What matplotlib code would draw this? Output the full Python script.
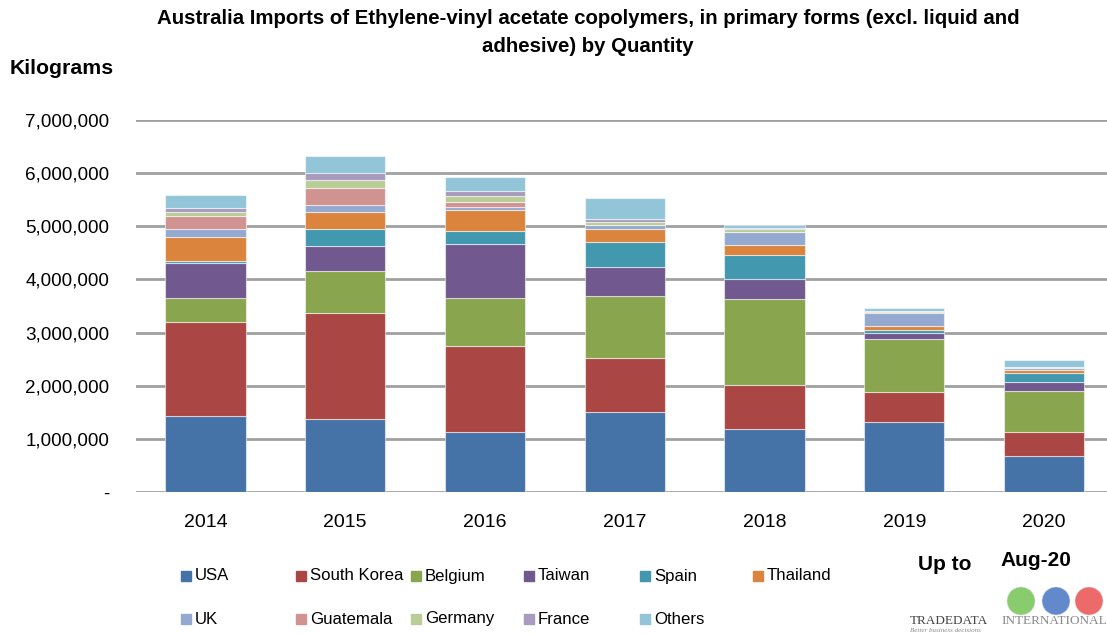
import matplotlib
matplotlib.use("Agg")
import matplotlib.pyplot as plt
from matplotlib.patches import Rectangle, Ellipse
from matplotlib.ticker import FuncFormatter
import numpy as np

plt.rcParams['font.family'] = ['Liberation Sans', 'DejaVu Sans']

years = ["2014", "2015", "2016", "2017", "2018", "2019", "2020"]

usa         = [1430000, 1370000, 1120000, 1500000, 1190000, 1310000, 680000]
south_korea = [1760000, 2000000, 1620000, 1020000, 830000, 580000, 455000]
belgium     = [460000, 795000, 910000, 1170000, 1610000, 990000, 770000]
taiwan      = [650000, 455000, 1017000, 550000, 378000, 120000, 164000]
spain       = [50000, 320000, 240000, 470000, 460000, 45000, 164000]
thailand    = [450000, 335000, 395000, 235000, 175000, 75000, 68000]
uk          = [145000, 125000, 60000, 70000, 245000, 255000, 30000]
guatemala   = [250000, 325000, 90000, 10000, 5000, 10000, 0]
germany     = [65000, 145000, 125000, 60000, 60000, 15000, 15000]
france      = [80000, 140000, 95000, 60000, 10000, 10000, 0]
others      = [245000, 310000, 250000, 385000, 60000, 60000, 133000]

series_names = ["USA", "South Korea", "Belgium", "Taiwan", "Spain", "Thailand",
                "UK", "Guatemala", "Germany", "France", "Others"]
series_values = [usa, south_korea, belgium, taiwan, spain, thailand,
                 uk, guatemala, germany, france, others]
colors = ["#4572A7", "#AA4643", "#89A54E", "#71588F", "#4198AF", "#DB843D",
          "#93A9CF", "#D19392", "#B9CD96", "#A99BBD", "#92C5D8"]

W, H = 1107, 634
fig = plt.figure(figsize=(W / 100, H / 100), dpi=100)

ax_left, ax_right = 135.6, 1107
ax_bottom, ax_top = 492, 120
ax = fig.add_axes([ax_left / W, 1 - ax_bottom / H,
                   (ax_right - ax_left) / W, (ax_bottom - ax_top) / H])

x = np.arange(len(years))
bottom = np.zeros(len(years))
for name, vals, c in zip(series_names, series_values, colors):
    v = np.array(vals, dtype=float)
    ax.bar(x, v, width=0.575, bottom=bottom, color=c, label=name,
           edgecolor=(1, 1, 1, 0.55), linewidth=0.8, zorder=3)
    bottom += v

ax.set_ylim(0, 7000000)
ax.set_xlim(-0.5, -0.5 + (ax_right - ax_left) / 139.75)
ax.set_yticks(np.arange(0, 7000001, 1000000))
ax.yaxis.set_major_formatter(FuncFormatter(lambda v, p: "-" if v == 0 else f"{int(v):,}"))
ax.set_xticks(x)
ax.set_xticklabels(years)
ax.grid(axis='y', color='#a0a0a0', linewidth=2.0, zorder=0)
ax.set_axisbelow(True)
for s in ax.spines.values():
    s.set_visible(False)
ax.tick_params(axis='both', length=0, colors='black')
ax.tick_params(axis='y', pad=19, labelsize=13.6)
ax.tick_params(axis='x', pad=16, labelsize=14)

fig.text(588 / W, 1 - 18 / H,
         "Australia Imports of Ethylene-vinyl acetate copolymers, in primary forms (excl. liquid and",
         ha='center', va='center', fontsize=14.7, fontweight='bold')
fig.text(588 / W, 1 - 46 / H, "adhesive) by Quantity",
         ha='center', va='center', fontsize=14.7, fontweight='bold')
fig.text(10 / W, 1 - 68 / H, "Kilograms", ha='left', va='center',
         fontsize=15.3, fontweight='bold')

# legend laid out on a fixed grid
col_x = [186, 301, 416, 529, 645, 758]
row_y = [576, 619]
for i, (name, c) in enumerate(zip(series_names, colors)):
    r, cc = divmod(i, 6)
    px, py = col_x[cc], row_y[r]
    fig.patches.append(Rectangle(((px - 5) / W, 1 - (py + 5) / H), 10 / W, 10 / H,
                                 transform=fig.transFigure, color=c, figure=fig))
    fig.text((px + 9) / W, 1 - py / H, name, ha='left', va='center', fontsize=12.1)

fig.text(918 / W, 1 - 564 / H, "Up to", ha='left', va='center', fontsize=15, fontweight='bold')
fig.text(1000 / W, 1 - 561 / H, "Aug-20", ha='left', va='center', fontsize=15, fontweight='bold')

# TradeData International mark
for cx, col in [(1021, "#6CC04A"), (1056, "#3A6CC0"), (1089, "#E84545")]:
    fig.patches.append(Ellipse((cx / W, 1 - 601 / H), 28 / W, 28 / H,
                               transform=fig.transFigure,
                               facecolor=col, edgecolor='#dddddd', linewidth=0.5,
                               alpha=0.8, figure=fig))
fig.text(910 / W, 1 - 621 / H, "TRADEDATA", ha='left', va='center', fontsize=9.5,
         family='Liberation Serif', color='#444444')
fig.text(1001 / W, 1 - 621 / H, "INTERNATIONAL", ha='left', va='center', fontsize=9.5,
         family='Liberation Serif', color='#888888')
fig.text(910 / W, 1 - 631 / H, "Better business decisions", ha='left', va='center',
         fontsize=5, style='italic', family='Liberation Serif', color='#888888')

fig.savefig("out.png", dpi=100)
